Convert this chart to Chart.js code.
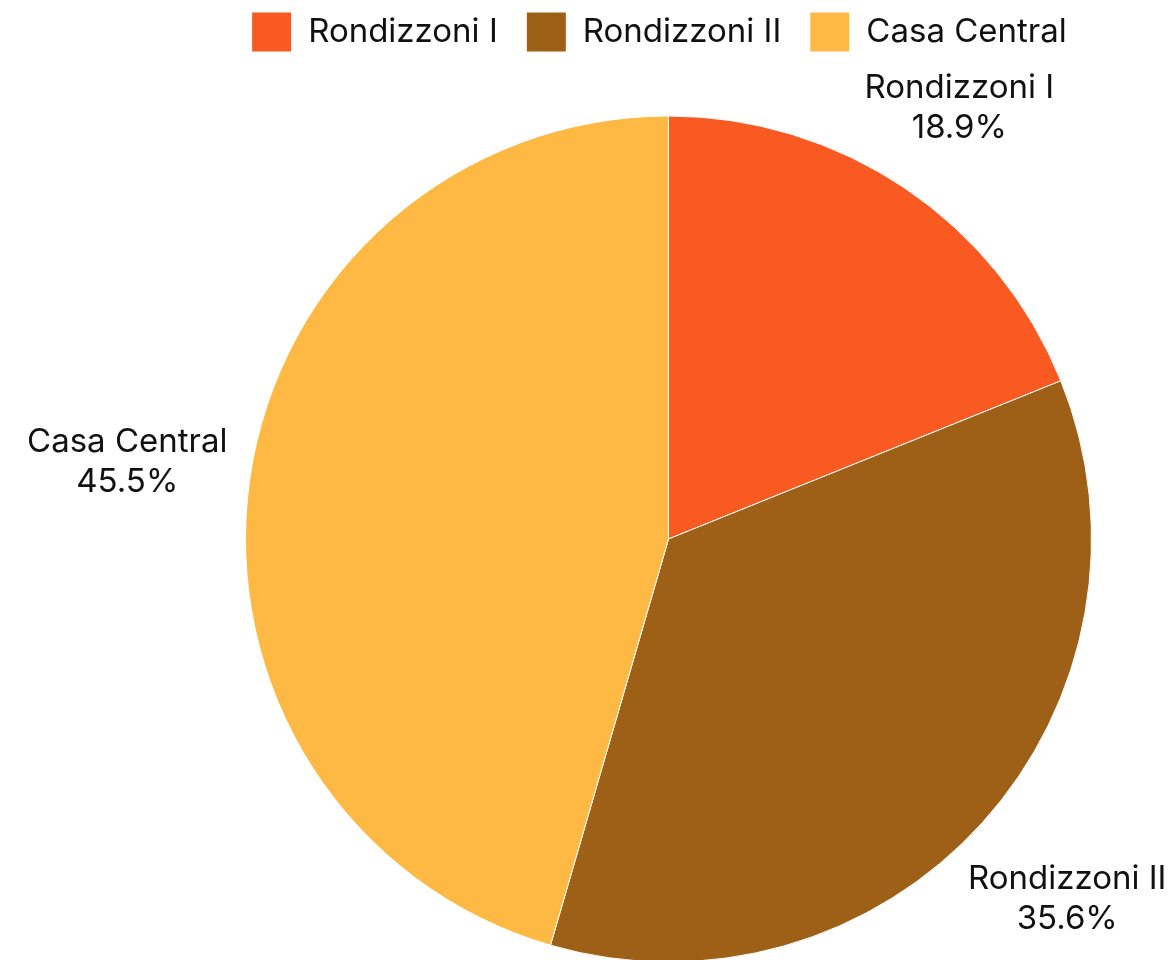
<!DOCTYPE html>
<html>
<head>
<meta charset="utf-8">
<script src="https://cdn.jsdelivr.net/npm/chart.js@4/dist/chart.umd.min.js"></script>
<style>
  html, body { margin: 0; padding: 0; background: #fff; overflow: hidden; }
  #wrap { width: 1176px; height: 960px; overflow: hidden; }
</style>
</head>
<body>
<div id="wrap"><canvas id="c" width="1176" height="1016"></canvas></div>
<script>
const categories = ['Rondizzoni I', 'Rondizzoni II', 'Casa Central'];
const shares = [18.9, 35.6, 45.5];
const sliceColors = ['#F85A22', '#9E6016', '#FDB944'];

const FONT = 'Inter, "Noto Sans", sans-serif';
const FS = 33;

const outLabels = {
  id: 'outLabels',
  afterDatasetsDraw(chart) {
    const ctx = chart.ctx;
    const meta = chart.getDatasetMeta(0);
    const lh = 40, px = 19;
    ctx.save();
    ctx.font = FS + 'px ' + FONT;
    ctx.fillStyle = '#111';
    ctx.textAlign = 'center';
    ctx.textBaseline = 'middle';
    meta.data.forEach((arc, i) => {
      const p = arc.getProps(['x', 'y', 'startAngle', 'endAngle', 'outerRadius'], true);
      const mid = (p.startAngle + p.endAngle) / 2;
      const vx = Math.cos(mid), vy = Math.sin(mid);
      const lines = [categories[i], shares[i].toFixed(1) + '%'];
      const w = Math.max(...lines.map(t => ctx.measureText(t).width));
      const h = lines.length * lh;
      const d = p.outerRadius + Math.abs(vx) * (w / 2 + px) + Math.abs(vy) * h / 2;
      const cx = p.x + vx * d, cy = p.y + vy * d;
      lines.forEach((t, k) => {
        ctx.fillText(t, cx, cy - h / 2 + lh / 2 + k * lh);
      });
    });
    ctx.restore();
  }
};

new Chart(document.getElementById('c'), {
  type: 'pie',
  data: {
    labels: categories,
    datasets: [{
      data: shares,
      backgroundColor: sliceColors,
      borderColor: '#ffffff',
      borderWidth: 1,
      radius: 423
    }]
  },
  options: {
    responsive: false,
    animation: false,
    layout: { padding: { left: 161, right: 0, top: 2, bottom: 0 } },
    plugins: {
      legend: {
        position: 'top',
        labels: {
          boxWidth: 40,
          boxHeight: 40,
          color: '#111',
          font: { family: FONT, size: FS },
          generateLabels(chart) {
            const items = Chart.overrides.pie.plugins.legend.labels.generateLabels(chart);
            items.forEach(it => { it.text = it.text + '  '; it.lineWidth = 1; });
            return items;
          }
        }
      },
      tooltip: { enabled: false }
    }
  },
  plugins: [outLabels]
});
</script>
</body>
</html>
